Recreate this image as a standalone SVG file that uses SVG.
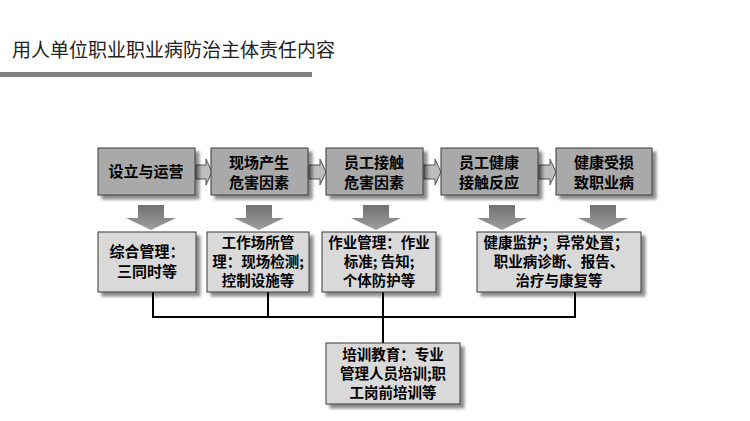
<svg xmlns="http://www.w3.org/2000/svg" width="750" height="421" viewBox="0 0 750 421">
<defs>
<linearGradient id="dg" x1="0" y1="0" x2="0" y2="1"><stop offset="0" stop-color="#707070"/><stop offset="1" stop-color="#a0a0a0"/></linearGradient>
<filter id="sh" x="-10%" y="-10%" width="130%" height="130%"><feDropShadow dx="4" dy="4" stdDeviation="1.5" flood-color="#000" flood-opacity="0.45"/></filter>
</defs>
<style>
.t{fill:#a9a9a9;stroke:#3a3a3a;stroke-width:1}
.b{fill:#d9d9d9;stroke:#3a3a3a;stroke-width:1}
text{font-family:"Noto Sans CJK SC",sans-serif;font-weight:bold;font-size:15px;fill:#000;text-anchor:middle}
.s{font-size:14.5px}
.c{fill:none;stroke:#000;stroke-width:2}
.ra{fill:#bdbdbd;stroke:#555;stroke-width:1}
.da{fill:url(#dg);stroke:none}
</style>
<rect width="750" height="421" fill="#fff"/>
<text x="12" y="57" style="font-weight:normal;font-size:19px;text-anchor:start;fill:#222">用人单位职业职业病防治主体责任内容</text>
<rect x="0" y="72" width="312" height="5" fill="#7f7f7f"/>
<g id="connectors">
<path class="c" d="M153 292V317H575V292M268 292V317M383 292V343"/>
<g id="right-arrows">
<path class="ra" d="M196 165h10v-6l6 13l-6 13v-6h-10z"/>
<path class="ra" d="M309 165h11v-6l6 13l-6 13v-6h-11z"/>
<path class="ra" d="M424 165h11v-6l6 13l-6 13v-6h-11z"/>
<path class="ra" d="M539 165h11v-6l6 13l-6 13v-6h-11z"/>
</g>
<g id="down-arrows">
<path class="da" d="M138 205h26v13h12l-25 12l-25-12h12z"/>
<path class="da" d="M246 205h26v13h12l-25 12l-25-12h12z"/>
<path class="da" d="M363 205h26v13h12l-25 12l-25-12h12z"/>
<path class="da" d="M489 205h26v13h12l-25 12l-25-12h12z"/>
<path class="da" d="M590 205h26v13h12l-25 12l-25-12h12z"/>
</g>
</g>
<g id="n1"><rect class="t" filter="url(#sh)" x="98" y="148" width="97" height="47"/><text x="146" y="177">设立与运营</text></g>
<g id="n2"><rect class="t" filter="url(#sh)" x="211" y="148" width="97" height="47"/><text x="259" y="168">现场产生</text><text x="259" y="188">危害因素</text></g>
<g id="n3"><rect class="t" filter="url(#sh)" x="326" y="148" width="97" height="47"/><text x="374" y="168">员工接触</text><text x="374" y="188">危害因素</text></g>
<g id="n4"><rect class="t" filter="url(#sh)" x="441" y="148" width="97" height="47"/><text x="489" y="168">员工健康</text><text x="489" y="188">接触反应</text></g>
<g id="n5"><rect class="t" filter="url(#sh)" x="556" y="148" width="96" height="47"/><text x="604" y="168">健康受损</text><text x="604" y="188">致职业病</text></g>
<g id="m1"><rect class="b" filter="url(#sh)" x="98" y="232" width="98" height="60"/><text x="147" y="257">综合管理：</text><text x="147" y="277">三同时等</text></g>
<g class="s" id="m2"><rect class="b" filter="url(#sh)" x="207" y="232" width="102" height="60"/><text class="s" x="258" y="248">工作场所管</text><text class="s" x="258" y="267">理：现场检测;</text><text class="s" x="258" y="286">控制设施等</text></g>
<g id="m3"><rect class="b" filter="url(#sh)" x="322" y="232" width="114" height="60"/><text class="s" x="379" y="248">作业管理：作业</text><text class="s" x="379" y="267">标准; 告知;</text><text class="s" x="379" y="286">个体防护等</text></g>
<g id="m4"><rect class="b" filter="url(#sh)" x="477" y="232" width="164" height="60"/><text class="s" x="556" y="248">健康监护；异常处置；</text><text class="s" x="559" y="267">职业病诊断、报告、</text><text class="s" x="559" y="286">治疗与康复等</text></g>
<g id="m5"><rect class="b" filter="url(#sh)" x="326" y="343" width="134" height="61"/><text class="s" x="393" y="360">培训教育：专业</text><text class="s" x="393" y="379">管理人员培训;职</text><text class="s" x="393" y="398">工岗前培训等</text></g>
</svg>
